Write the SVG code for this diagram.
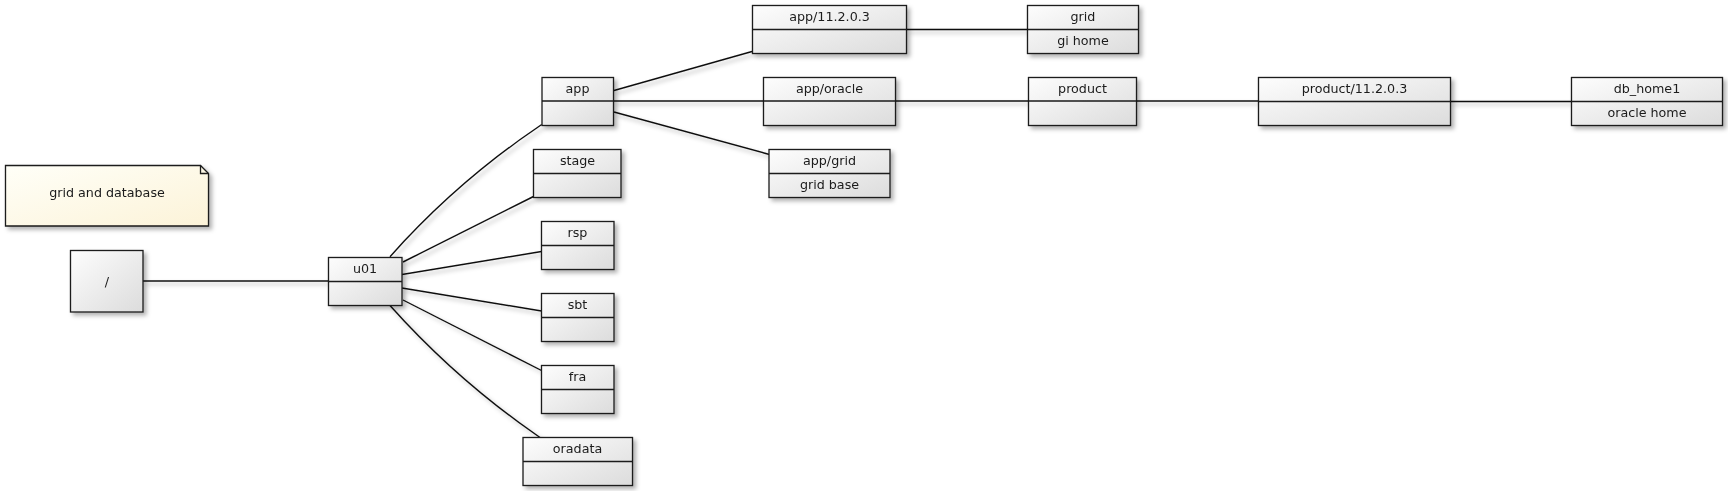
<svg xmlns="http://www.w3.org/2000/svg" width="1728" height="491" viewBox="0 0 1728 491">
<style>
.box{fill:url(#g);stroke:#1a1a1a;stroke-width:1.3}
.div{stroke:#1a1a1a;stroke-width:1.3;fill:none}
.t{font-family:"DejaVu Sans",Verdana,sans-serif;font-size:12.7px;fill:#1a1a1a;text-anchor:middle}
.c{stroke:#111;stroke-width:1.4;fill:none}
.note{fill:url(#gn);stroke:#1a1a1a;stroke-width:1.3}
</style>
<defs>
<linearGradient id="g" x1="0" y1="0" x2="1" y2="1">
<stop offset="0" stop-color="#fdfdfd"/>
<stop offset="1" stop-color="#dcdcdc"/>
</linearGradient>
<linearGradient id="gn" x1="0" y1="0" x2="1" y2="1">
<stop offset="0" stop-color="#fffff8"/>
<stop offset="1" stop-color="#fcf3d8"/>
</linearGradient>
<filter id="sh" x="-10%" y="-10%" width="130%" height="140%">
<feDropShadow dx="3" dy="3" stdDeviation="2" flood-color="#000" flood-opacity="0.3"/>
</filter>
</defs>
<rect width="1728" height="491" fill="#fff"/>
<g id="connectors" filter="url(#sh)">
<line class="c" x1="143" y1="281" x2="328" y2="281"/>
<path class="c" d="M390,256.7 Q457,181.5 541.7,124.5"/>
<line class="c" x1="403" y1="262" x2="533.5" y2="196.5"/>
<line class="c" x1="402" y1="274.5" x2="541.5" y2="251.5"/>
<line class="c" x1="402" y1="288" x2="541.5" y2="311"/>
<line class="c" x1="403" y1="300" x2="541.5" y2="370.5"/>
<path class="c" d="M390,305.5 Q457,380.5 540,437.5"/>
<line class="c" x1="614" y1="90.5" x2="752" y2="51.5"/>
<line class="c" x1="613" y1="101" x2="763" y2="101"/>
<line class="c" x1="614" y1="112" x2="769.5" y2="154.5"/>
<line class="c" x1="906.5" y1="29.5" x2="1027" y2="29.5"/>
<line class="c" x1="895" y1="101" x2="1028" y2="101"/>
<line class="c" x1="1136.5" y1="101" x2="1258.5" y2="101"/>
<line class="c" x1="1450.5" y1="101.5" x2="1571" y2="101.5"/>
</g>
<g id="note" filter="url(#sh)">
<path class="note" d="M5.5,165.5 H200.5 L208.5,173.5 V226 H5.5 Z"/>
<path class="div" d="M200.5,165.5 V173.5 H208.5"/>
<text class="t" x="107" y="197">grid and database</text>
</g>
<g id="n-root" filter="url(#sh)">
<rect class="box" x="70.5" y="250.5" width="72.5" height="61.5"/>
<text class="t" x="107" y="286">/</text>
</g>
<g id="n-u01" filter="url(#sh)">
<rect class="box" x="328.5" y="257.5" width="73.5" height="48"/>
<line class="div" x1="328.5" y1="281.5" x2="402" y2="281.5"/>
<text class="t" x="365" y="273">u01</text>
</g>
<g id="n-app" filter="url(#sh)">
<rect class="box" x="542" y="77.5" width="71.5" height="48"/>
<line class="div" x1="542" y1="101" x2="613.5" y2="101"/>
<text class="t" x="577.5" y="93">app</text>
</g>
<g id="n-stage" filter="url(#sh)">
<rect class="box" x="533.5" y="149.5" width="87.5" height="48"/>
<line class="div" x1="533.5" y1="173.5" x2="621" y2="173.5"/>
<text class="t" x="577.5" y="165">stage</text>
</g>
<g id="n-rsp" filter="url(#sh)">
<rect class="box" x="541.5" y="221.5" width="72.5" height="48"/>
<line class="div" x1="541.5" y1="245.5" x2="614" y2="245.5"/>
<text class="t" x="577.5" y="237">rsp</text>
</g>
<g id="n-sbt" filter="url(#sh)">
<rect class="box" x="541.5" y="293.5" width="72.5" height="48"/>
<line class="div" x1="541.5" y1="317.5" x2="614" y2="317.5"/>
<text class="t" x="577.5" y="309">sbt</text>
</g>
<g id="n-fra" filter="url(#sh)">
<rect class="box" x="541.5" y="365.5" width="72.5" height="48"/>
<line class="div" x1="541.5" y1="389.5" x2="614" y2="389.5"/>
<text class="t" x="577.5" y="381">fra</text>
</g>
<g id="n-oradata" filter="url(#sh)">
<rect class="box" x="523" y="437.5" width="109.5" height="48"/>
<line class="div" x1="523" y1="461.5" x2="632.5" y2="461.5"/>
<text class="t" x="577.5" y="453">oradata</text>
</g>
<g id="n-app11203" filter="url(#sh)">
<rect class="box" x="752.5" y="5.5" width="154" height="48"/>
<line class="div" x1="752.5" y1="29.5" x2="906.5" y2="29.5"/>
<text class="t" x="829.5" y="21">app/11.2.0.3</text>
</g>
<g id="n-apporacle" filter="url(#sh)">
<rect class="box" x="763.5" y="77.5" width="132" height="48"/>
<line class="div" x1="763.5" y1="101" x2="895.5" y2="101"/>
<text class="t" x="829.5" y="93">app/oracle</text>
</g>
<g id="n-appgrid" filter="url(#sh)">
<rect class="box" x="769" y="149.5" width="121" height="48"/>
<line class="div" x1="769" y1="173.5" x2="890" y2="173.5"/>
<text class="t" x="829.5" y="165">app/grid</text>
<text class="t" x="829.5" y="188.5">grid base</text>
</g>
<g id="n-grid" filter="url(#sh)">
<rect class="box" x="1027.5" y="5.5" width="111" height="48"/>
<line class="div" x1="1027.5" y1="29.5" x2="1138.5" y2="29.5"/>
<text class="t" x="1083" y="21">grid</text>
<text class="t" x="1083" y="44.5">gi home</text>
</g>
<g id="n-product" filter="url(#sh)">
<rect class="box" x="1028.5" y="77.5" width="108" height="48"/>
<line class="div" x1="1028.5" y1="101" x2="1136.5" y2="101"/>
<text class="t" x="1082.5" y="93">product</text>
</g>
<g id="n-product11203" filter="url(#sh)">
<rect class="box" x="1258.5" y="77.5" width="192" height="48"/>
<line class="div" x1="1258.5" y1="101.5" x2="1450.5" y2="101.5"/>
<text class="t" x="1354.5" y="93">product/11.2.0.3</text>
</g>
<g id="n-dbhome1" filter="url(#sh)">
<rect class="box" x="1571.5" y="77.5" width="151" height="48"/>
<line class="div" x1="1571.5" y1="101.5" x2="1722.5" y2="101.5"/>
<text class="t" x="1647" y="93">db_home1</text>
<text class="t" x="1647" y="116.5">oracle home</text>
</g>
</svg>
